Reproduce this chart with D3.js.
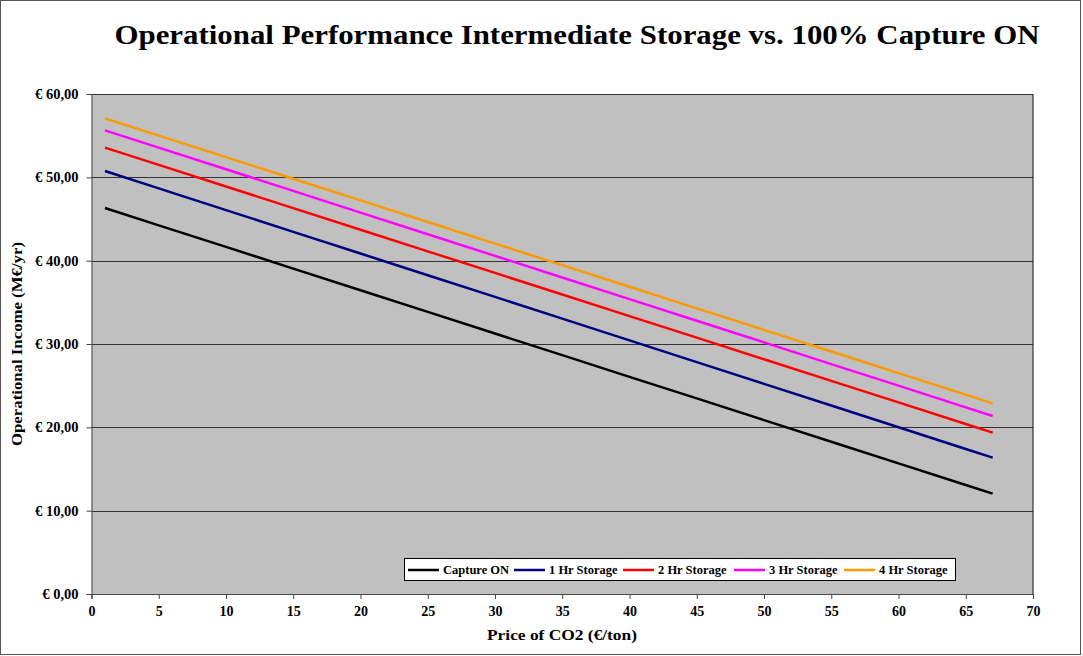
<!DOCTYPE html>
<html>
<head>
<meta charset="utf-8">
<script src="https://cdn.jsdelivr.net/npm/d3@7"></script>
<style>
    body { margin: 0; background: #fff; }
    text { font-family: "Liberation Serif", "DejaVu Serif", serif; font-weight: bold; }
</style>
</head>
<body>
<div id="chart"></div>
<script>
// price of CO2 (€/ton) at which values were read
const prices = [1, 5, 10, 15, 20, 25, 30, 35, 40, 45, 50, 55, 60, 65, 67];

// operational income (M€/yr)
const captureOn = [46.32, 44.24, 41.65, 39.05, 36.45, 33.85, 31.26, 28.66, 26.06, 23.47, 20.87, 18.27, 15.68, 13.08, 12.04];
const storage1 = [50.76, 48.67, 46.07, 43.46, 40.86, 38.25, 35.65, 33.04, 30.43, 27.83, 25.22, 22.62, 20.01, 17.40, 16.36];
const storage2 = [53.56, 51.49, 48.90, 46.31, 43.71, 41.12, 38.53, 35.94, 33.35, 30.76, 28.17, 25.58, 22.99, 20.40, 19.36];
const storage3 = [55.64, 53.56, 50.97, 48.37, 45.77, 43.17, 40.58, 37.98, 35.38, 32.79, 30.19, 27.59, 25.00, 22.40, 21.36];
const storage4 = [57.08, 55.01, 52.42, 49.83, 47.23, 44.64, 42.05, 39.46, 36.87, 34.28, 31.69, 29.10, 26.51, 23.92, 22.88];

const seriesNames = ["Capture ON", "1 Hr Storage", "2 Hr Storage", "3 Hr Storage", "4 Hr Storage"];
const seriesColors = ["#000000", "#000080", "#ff0000", "#ff00ff", "#ff9900"];

const xTicks = d3.range(0, 71, 5);
const yTicks = d3.range(0, 61, 10);

const W = 1083, H = 656;
const plot = {left: 91.5, right: 1033, top: 94, bottom: 594};

const svg = d3.select("#chart").append("svg")
    .attr("width", W)
    .attr("height", H);

// outer frame
svg.append("rect")
    .attr("x", 0.5).attr("y", 0.5)
    .attr("width", W - 3).attr("height", H - 2)
    .attr("fill", "#fff")
    .attr("stroke", "#555");

svg.append("text")
    .attr("x", 577)
    .attr("y", 44)
    .attr("text-anchor", "middle")
    .attr("font-size", 27)
    .attr("textLength", 925)
    .attr("lengthAdjust", "spacingAndGlyphs")
    .text("Operational Performance Intermediate Storage vs. 100% Capture ON");

const x = d3.scaleLinear().domain([0, 70]).range([plot.left, plot.right]);
const y = d3.scaleLinear().domain([0, 60]).range([plot.bottom, plot.top]);

// plot area
svg.append("rect")
    .attr("x", plot.left).attr("y", plot.top)
    .attr("width", plot.right - plot.left).attr("height", plot.bottom - plot.top)
    .attr("fill", "#c0c0c0");

// gridlines
svg.append("g")
    .selectAll("line")
    .data(yTicks.slice(1))
    .join("line")
    .attr("x1", plot.left).attr("x2", plot.right)
    .attr("y1", d => Math.round(y(d)) + 0.5).attr("y2", d => Math.round(y(d)) + 0.5)
    .attr("stroke", "#333")
    .attr("stroke-width", 1);

// right border
svg.append("line")
    .attr("x1", plot.right).attr("x2", plot.right)
    .attr("y1", plot.top).attr("y2", plot.bottom)
    .attr("stroke", "#111");

const euro = d => "€ " + d3.format(".2f")(d).replace(".", ",");

svg.append("g")
    .attr("transform", `translate(${plot.left},0)`)
    .call(d3.axisLeft(y).tickValues(yTicks).tickFormat(euro).tickSize(5).tickPadding(8))
    .call(g => g.select(".domain").attr("stroke", "#444"))
    .call(g => g.selectAll(".tick line").attr("stroke", "#444"))
    .call(g => g.selectAll("text").attr("font-size", 14.5).attr("fill", "#000")
        .style("font-family", "'Liberation Serif', serif"));

svg.append("g")
    .attr("transform", `translate(0,${plot.bottom})`)
    .call(d3.axisBottom(x).tickValues(xTicks).tickSize(5).tickPadding(7))
    .call(g => g.select(".domain").attr("stroke", "#444"))
    .call(g => g.selectAll(".tick line").attr("stroke", "#444"))
    .call(g => g.selectAll("text").attr("font-size", 14).attr("fill", "#000")
        .style("font-family", "'Liberation Serif', serif"));

svg.append("text")
    .attr("transform", "translate(22,344) rotate(-90)")
    .attr("text-anchor", "middle")
    .attr("font-size", 15)
    .attr("textLength", 204)
    .attr("lengthAdjust", "spacingAndGlyphs")
    .text("Operational Income (M€/yr)");

svg.append("text")
    .attr("x", 562)
    .attr("y", 640)
    .attr("text-anchor", "middle")
    .attr("font-size", 15)
    .attr("textLength", 150)
    .attr("lengthAdjust", "spacingAndGlyphs")
    .text("Price of CO2 (€/ton)");

// series
const allSeries = [captureOn, storage1, storage2, storage3, storage4];
const line = d3.line()
    .x((d, i) => x(prices[i]))
    .y(d => y(d));

svg.append("g")
    .selectAll("path")
    .data(allSeries)
    .join("path")
    .attr("d", line)
    .attr("fill", "none")
    .attr("stroke", (d, i) => seriesColors[i])
    .attr("stroke-width", 2.5)
    .attr("stroke-linejoin", "round");

// legend
const legendX = [408, 514, 623, 734, 844];
const legend = svg.append("g");
legend.append("rect")
    .attr("x", 404.5).attr("y", 558.5)
    .attr("width", 551).attr("height", 22)
    .attr("fill", "#fff")
    .attr("stroke", "#000");

const items = legend.selectAll("g.item")
    .data(seriesNames)
    .join("g")
    .attr("class", "item")
    .attr("transform", (d, i) => `translate(${legendX[i]},570)`);
items.append("line")
    .attr("x1", 0).attr("x2", 31)
    .attr("stroke", (d, i) => seriesColors[i])
    .attr("stroke-width", 2.5);
items.append("text")
    .attr("x", 35)
    .attr("dy", "0.35em")
    .attr("font-size", 12.5)
    .text(d => d);
</script>
</body>
</html>
